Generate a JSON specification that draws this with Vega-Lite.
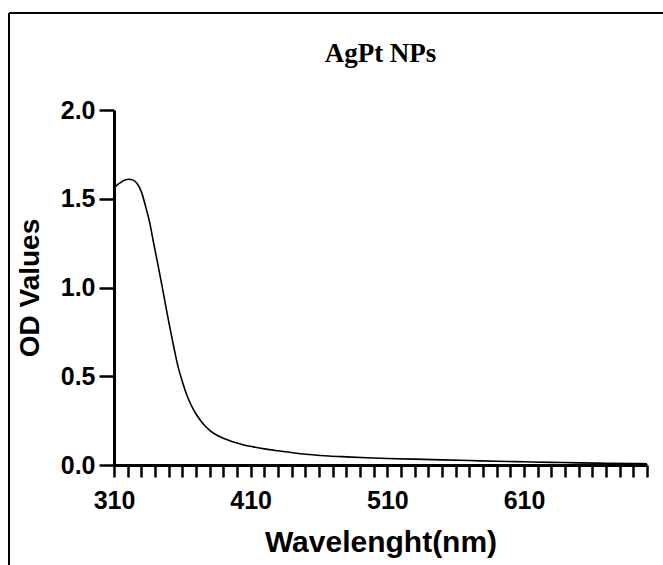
{
  "$schema": "https://vega.github.io/schema/vega-lite/v6.json",
  "width": 533,
  "height": 355,
  "autosize": {"type": "none"},
  "padding": {"left": 114, "top": 110, "right": 16, "bottom": 100},
  "background": "white",
  "title": {
    "text": "AgPt NPs",
    "font": "Liberation Serif",
    "fontSize": 27,
    "fontWeight": "bold",
    "color": "black",
    "anchor": "middle",
    "baseline": "bottom",
    "offset": -83
  },
  "config": {
    "view": {"stroke": null},
    "axis": {
      "domainColor": "black",
      "tickColor": "black",
      "labelColor": "black",
      "titleColor": "black",
      "labelFont": "Liberation Sans",
      "titleFont": "Liberation Sans",
      "labelFontWeight": "bold",
      "titleFontWeight": "bold",
      "grid": false
    }
  },
  "data": {
    "values": [
      {"wavelength": 310, "od": 1.56},
      {"wavelength": 312, "od": 1.575},
      {"wavelength": 315, "od": 1.592},
      {"wavelength": 318, "od": 1.605},
      {"wavelength": 321, "od": 1.61},
      {"wavelength": 324, "od": 1.605},
      {"wavelength": 327, "od": 1.585},
      {"wavelength": 330, "od": 1.54},
      {"wavelength": 333, "od": 1.46},
      {"wavelength": 336, "od": 1.37},
      {"wavelength": 339, "od": 1.25},
      {"wavelength": 342, "od": 1.135},
      {"wavelength": 345, "od": 1.015},
      {"wavelength": 348, "od": 0.89},
      {"wavelength": 351, "od": 0.77},
      {"wavelength": 354, "od": 0.655},
      {"wavelength": 357, "od": 0.55},
      {"wavelength": 360, "od": 0.47},
      {"wavelength": 363, "od": 0.4},
      {"wavelength": 366, "od": 0.345},
      {"wavelength": 369, "od": 0.3},
      {"wavelength": 372, "od": 0.265},
      {"wavelength": 376, "od": 0.225},
      {"wavelength": 380, "od": 0.195},
      {"wavelength": 386, "od": 0.165},
      {"wavelength": 392, "od": 0.145},
      {"wavelength": 398, "od": 0.128},
      {"wavelength": 405, "od": 0.113},
      {"wavelength": 412, "od": 0.102},
      {"wavelength": 420, "od": 0.091},
      {"wavelength": 430, "od": 0.08},
      {"wavelength": 442, "od": 0.068},
      {"wavelength": 455, "od": 0.058},
      {"wavelength": 467, "od": 0.051},
      {"wavelength": 480, "od": 0.046},
      {"wavelength": 495, "od": 0.041},
      {"wavelength": 510, "od": 0.037},
      {"wavelength": 530, "od": 0.033},
      {"wavelength": 550, "od": 0.029},
      {"wavelength": 570, "od": 0.025},
      {"wavelength": 590, "od": 0.021},
      {"wavelength": 610, "od": 0.018},
      {"wavelength": 630, "od": 0.015},
      {"wavelength": 650, "od": 0.012},
      {"wavelength": 670, "od": 0.01},
      {"wavelength": 690, "od": 0.008},
      {"wavelength": 700, "od": 0.007}
    ]
  },
  "layer": [
    {
      "mark": {"type": "line", "color": "black", "strokeWidth": 1.6, "interpolate": "monotone", "clip": false},
      "encoding": {
        "x": {
          "field": "wavelength",
          "type": "quantitative",
          "scale": {"domain": [310, 700], "nice": false, "zero": false},
          "axis": {
            "title": "Wavelenght(nm)",
            "titleFontSize": 30,
            "titlePadding": 14,
            "values": [310,320,330,340,350,360,370,380,390,400,410,420,430,440,450,460,470,480,490,500,510,520,530,540,550,560,570,580,590,600,610,620,630,640,650,660,670,680,690,700],
            "tickCount": 200,
            "labelExpr": "(datum.value - 310) % 100 === 0 ? datum.label : ''",
            "labelOverlap": false,
            "labelFlush": false,
            "labelFontSize": 25,
            "labelPadding": 11,
            "tickSize": 12,
            "tickWidth": 2.5,
            "domainWidth": 3,
            "encode": {
              "ticks": {"update": {"y2": {"signal": "(datum.value - 310) % 100 === 0 ? 12 : 6"}}}
            }
          }
        },
        "y": {
          "field": "od",
          "type": "quantitative",
          "scale": {"domain": [0, 2], "nice": false},
          "axis": {
            "title": "OD Values",
            "titleFontSize": 28,
            "titlePadding": 16,
            "values": [0, 0.5, 1, 1.5, 2],
            "tickCount": 20,
            "format": ".1f",
            "labelFontSize": 25,
            "labelFlush": false,
            "labelPadding": 4,
            "tickSize": 15,
            "tickWidth": 2.5,
            "domainWidth": 3
          }
        }
      }
    },
    {
      "mark": {"type": "rule", "color": "black", "strokeWidth": 1.5, "clip": false},
      "encoding": {
        "x": {"datum": 233.3, "type": "quantitative", "scale": {"domain": [310, 700], "nice": false, "zero": false}},
        "y": {"datum": 2.546, "type": "quantitative", "scale": {"domain": [0, 2], "nice": false}},
        "y2": {"datum": -0.6}
      }
    },
    {
      "mark": {"type": "rule", "color": "black", "strokeWidth": 1.5, "clip": false},
      "encoding": {
        "x": {"datum": 233.3, "type": "quantitative", "scale": {"domain": [310, 700], "nice": false, "zero": false}},
        "x2": {"datum": 730},
        "y": {"datum": 2.546, "type": "quantitative", "scale": {"domain": [0, 2], "nice": false}}
      }
    }
  ]
}
